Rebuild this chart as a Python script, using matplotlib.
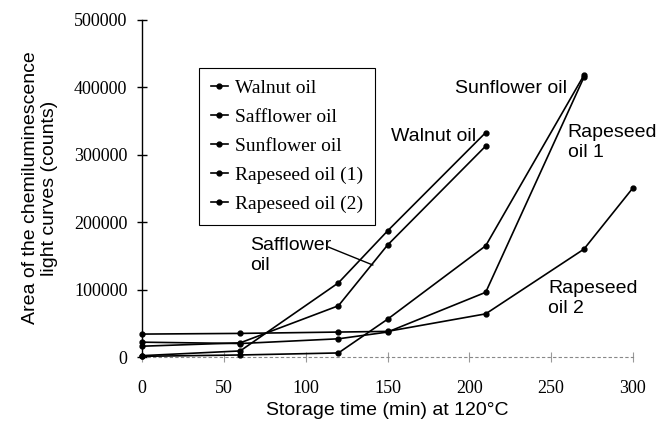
import matplotlib
matplotlib.use('Agg')
import matplotlib.pyplot as plt

# storage time (min) and counts
t_walnut = [0, 60, 120, 150, 210]
walnut = [2000, 9000, 110000, 187000, 333000]
t_safflower = [0, 60, 120, 150, 210]
safflower = [16000, 21000, 76000, 166000, 313000]
t_sunflower = [0, 60, 120, 150, 210, 270]
sunflower = [1000, 3000, 6000, 56000, 165000, 418000]
t_rape1 = [0, 60, 120, 150, 210, 270]
rape1 = [22000, 20000, 27000, 37000, 96000, 415000]
t_rape2 = [0, 60, 120, 150, 210, 270, 300]
rape2 = [34000, 35000, 37000, 38000, 64000, 160000, 251000]

xticks = [0, 50, 100, 150, 200, 250, 300]
yticks = [0, 100000, 200000, 300000, 400000, 500000]

serif = 'Liberation Serif'
sans = 'Liberation Sans'

fig = plt.figure(figsize=(6.57, 4.24), dpi=100)
ax = fig.add_axes([142/657, 1-357/424, 491/657, 337/424])

series = [(t_walnut, walnut, 'Walnut oil'),
          (t_safflower, safflower, 'Safflower oil'),
          (t_sunflower, sunflower, 'Sunflower oil'),
          (t_rape1, rape1, 'Rapeseed oil (1)'),
          (t_rape2, rape2, 'Rapeseed oil (2)')]
for t, v, name in series:
    ax.plot(t, v, color='black', lw=1.2, marker='o', ms=3.5, label=name, clip_on=False, zorder=3)

ax.set_xlim(0, 300)
ax.set_ylim(0, 500000)
ax.set_xticks(xticks)
ax.set_yticks(yticks)
ax.set_xticklabels([str(x) for x in xticks], fontfamily=serif, fontsize=13)
ax.set_yticklabels([str(y) for y in yticks], fontfamily=serif, fontsize=13)
ax.tick_params(axis='y', direction='inout', length=7, width=1, pad=7)
ax.tick_params(axis='x', direction='inout', length=7, width=0.8, color='#999999', pad=13)

ax.spines['top'].set_visible(False)
ax.spines['right'].set_visible(False)
ax.spines['left'].set_linewidth(1)
ax.spines['bottom'].set_linestyle((0, (2, 3)))
ax.spines['bottom'].set_color('#888888')
ax.spines['bottom'].set_linewidth(0.8)

ax.set_xlabel('Storage time (min) at 120°C', fontfamily=sans, fontsize=14, labelpad=4)
fig.text(40/657, 1-188/424, 'Area of the chemiluminescence\nlight curves (counts)',
         rotation=90, ha='center', va='center', fontfamily=sans, fontsize=14, linespacing=1.2)

# curve labels
ax.text(152, 327000, 'Walnut oil', fontfamily=sans, fontsize=14, ha='left', va='center')
ax.text(191, 398000, 'Sunflower oil', fontfamily=sans, fontsize=14, ha='left', va='center')
ax.text(260, 345000, 'Rapeseed\noil 1', fontfamily=sans, fontsize=14, ha='left', va='top', linespacing=1.2)
ax.text(248, 114000, 'Rapeseed\noil 2', fontfamily=sans, fontsize=14, ha='left', va='top', linespacing=1.2)
ax.text(66, 178000, 'Safflower\noil', fontfamily=sans, fontsize=14, ha='left', va='top', linespacing=1.2)
ax.plot([114, 141], [163000, 136500], color='black', lw=1)

leg = ax.legend(loc='upper left', bbox_to_anchor=(199/657, 1-68/424), bbox_transform=fig.transFigure,
                borderaxespad=0, fancybox=False, edgecolor='black', framealpha=1,
                handlelength=0.9, handletextpad=0.35, labelspacing=0.58, borderpad=0.6,
                prop={'family': serif, 'size': 14})
leg.get_frame().set_linewidth(0.8)

plt.savefig('out.png', dpi=100)
